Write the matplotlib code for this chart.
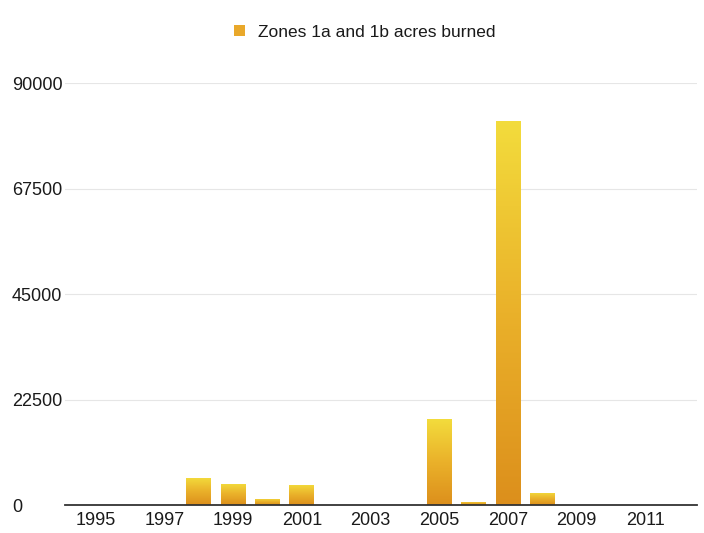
import numpy as np
import matplotlib

matplotlib.use("Agg")
import matplotlib.pyplot as plt
from matplotlib.colors import LinearSegmentedColormap
from matplotlib.patches import Patch

years = list(range(1995, 2013))
acres = [0, 0, 0, 5900, 4500, 1400, 4300, 150, 60, 0, 18300, 750, 82000, 2600, 80, 0, 0, 0]
yticks = [0, 22500, 45000, 67500, 90000]
xtick_years = list(range(1995, 2012, 2))
series_label = "Zones 1a and 1b acres burned"

_INK = "#1a1a1a"
_GRID = "#e6e6e6"
_BAR_GRAD = LinearSegmentedColormap.from_list("gold", ["#dc8f1c", "#eab12a", "#f3dc3c"])

plt.rcParams["font.family"] = ["Liberation Sans", "DejaVu Sans"]

fig = plt.figure(figsize=(7.04, 5.33), dpi=100)
ax = fig.add_axes([0.092, 0.052, 0.898, 0.792])

bars = ax.bar(years, acres, width=0.72, color="none", zorder=2)

# vertical orange-to-yellow gradient inside each bar
grad = np.linspace(0, 1, 256).reshape(-1, 1)
for bar in bars:
    h = bar.get_height()
    if h <= 0:
        continue
    x0 = bar.get_x()
    w = bar.get_width()
    im = ax.imshow(grad, cmap=_BAR_GRAD, origin="lower", aspect="auto",
                   extent=(x0, x0 + w, 0, h), zorder=3)
    im.set_clip_path(bar)

ax.set_xlim(1994.1, 2012.5)
ax.set_ylim(0, 90000)
ax.set_yticks(yticks)
ax.set_yticklabels([str(v) for v in yticks], fontsize=13, color=_INK, ha="left")
ax.tick_params(axis="y", length=0, pad=38)
ax.set_xticks(xtick_years)
ax.set_xticklabels([str(y) for y in xtick_years], fontsize=13, color=_INK)
ax.tick_params(axis="x", length=0, pad=5)

ax.yaxis.grid(True, color=_GRID, linewidth=0.8, zorder=0)
ax.set_axisbelow(True)
for spine in ("top", "right", "left"):
    ax.spines[spine].set_visible(False)
ax.spines["bottom"].set_color("#333333")
ax.spines["bottom"].set_linewidth(1.3)
ax.spines["bottom"].set_zorder(4)

handle = Patch(facecolor="#e9a82a", edgecolor="none")
ax.legend([handle], [series_label], loc="center", bbox_to_anchor=(0.475, 1.12),
          frameon=False, fontsize=12.5, handlelength=0.6, handleheight=0.6,
          handletextpad=0.8, labelcolor=_INK)

fig.savefig("out.png", dpi=100, facecolor="white")
